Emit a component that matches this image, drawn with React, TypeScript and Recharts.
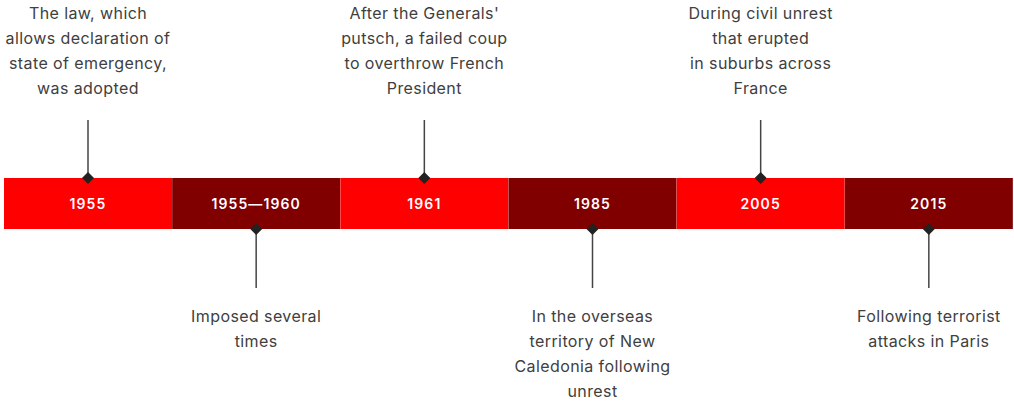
import { BarChart, Bar, XAxis, YAxis, Cell, LabelList } from "recharts";

const years = ["1955", "1955—1960", "1961", "1985", "2005", "2015"];
const spans = [1, 1, 1, 1, 1, 1];
const notes = [
  ["The law, which", "allows declaration of", "state of emergency,", "was adopted"],
  ["Imposed several", "times"],
  ["After the Generals'", "putsch, a failed coup", "to overthrow French", "President"],
  ["In the overseas", "territory of New", "Caledonia following", "unrest"],
  ["During civil unrest", "that erupted", "in suburbs across", "France"],
  ["Following terrorist", "attacks in Paris"]
];

const data = years.map((year, i) => ({ year, span: spans[i], note: notes[i] }));

const RED = "#ff0000";
const DARK = "#800000";
const INK = "#404040";
const FONT = "Inter, 'Noto Sans', sans-serif";

// year text inside each segment
const YearLabel = (props: any) => {
  const { x, y, width, height, value } = props;
  return (
    <text
      x={x + width / 2}
      y={y + height / 2}
      textAnchor="middle"
      dominantBaseline="central"
      fill="#fff"
      fontSize={14}
      fontWeight={600}
      fontFamily={FONT}
      style={{ letterSpacing: 1.1 }}
    >
      {value}
    </text>
  );
};

const Annotation = (props: any) => {
  const { x, y, width, height, index } = props;
  const cx = x + width / 2;
  const lines: string[] = notes[index];
  const above = index % 2 === 0;
  const anchorY = above ? y : y + height;
  const d = 6;
  const diamond = `M${cx},${anchorY - d} L${cx + d},${anchorY} L${cx},${anchorY + d} L${cx - d},${anchorY} Z`;
  const stemEnd = above ? anchorY - 58 : anchorY + 59;
  const firstLine = above ? 13 : 316;
  return (
    <g>
      <line x1={cx} x2={cx} y1={anchorY} y2={stemEnd} stroke="#444" strokeWidth={1.5} />
      <path d={diamond} fill="#222" />
      {lines.map((t, k) => (
        <text
          key={k}
          x={cx}
          y={firstLine + k * 25}
          textAnchor="middle"
          dominantBaseline="central"
          fill={INK}
          fontSize={16}
          fontFamily={FONT}
          style={{ letterSpacing: 0.4 }}
        >
          {t}
        </text>
      ))}
    </g>
  );
};

export default function App() {
  return (
    <div style={{ position: "absolute", left: 0, top: 0, width: 1014, height: 402, background: "#fff" }}>
      <BarChart
        width={1014}
        height={402}
        data={data}
        margin={{ top: 178, right: 1, bottom: 173, left: 4 }}
        barCategoryGap={0}
      >
        <XAxis dataKey="year" hide />
        <YAxis hide domain={[0, 1]} />
        <Bar dataKey="span" isAnimationActive={false}>
          {data.map((d, i) => (
            <Cell key={d.year} fill={i % 2 === 0 ? RED : DARK} />
          ))}
          <LabelList dataKey="year" content={<YearLabel />} />
          <LabelList dataKey="year" content={<Annotation />} />
        </Bar>
      </BarChart>
    </div>
  );
}
